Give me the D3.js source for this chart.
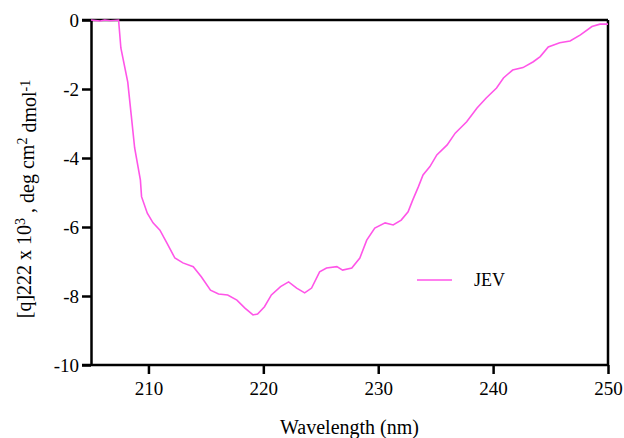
<!DOCTYPE html>
<html>
<head>
<meta charset="utf-8">
<script src="https://cdn.jsdelivr.net/npm/d3@7"></script>
<style>
  body { margin: 0; background: #fff; }
  svg { display: block; }
  text { font-family: "Liberation Serif", "Times New Roman", serif; fill: #000; }
</style>
</head>
<body>
<div id="chart"></div>
<script>
// CD spectrum
var wavelength = [205.0, 205.8, 206.2, 206.7, 207.4, 207.6, 208.2, 208.5, 208.8, 209.3,
  209.4, 209.9, 210.4, 211.0, 211.6, 212.3, 213.0, 213.9, 214.6, 215.4,
  216.1, 216.9, 217.7, 218.4, 219.1, 219.5, 220.1, 220.7, 221.5, 222.2,
  222.9, 223.6, 224.2, 224.9, 225.5, 226.4, 226.9, 227.7, 228.4, 229.0,
  229.7, 230.6, 231.3, 232.0, 232.6, 233.0, 233.5, 233.9, 234.5, 235.1,
  236.0, 236.7, 237.7, 238.6, 239.4, 240.3, 240.9, 241.7, 242.6, 243.5,
  244.1, 244.8, 245.8, 246.7, 247.6, 248.6, 249.3, 250.0];
var theta = [0, -0.03, 0, -0.02, 0, -0.81, -1.80, -2.75, -3.71, -4.64,
  -5.12, -5.60, -5.88, -6.09, -6.46, -6.90, -7.04, -7.15, -7.44, -7.83,
  -7.94, -7.97, -8.12, -8.35, -8.55, -8.52, -8.31, -7.97, -7.73, -7.59,
  -7.77, -7.91, -7.77, -7.30, -7.19, -7.15, -7.25, -7.19, -6.90, -6.38,
  -6.03, -5.88, -5.94, -5.80, -5.56, -5.22, -4.83, -4.49, -4.25, -3.91,
  -3.62, -3.28, -2.95, -2.55, -2.26, -1.97, -1.68, -1.45, -1.38, -1.21,
  -1.06, -0.78, -0.66, -0.61, -0.43, -0.19, -0.12, -0.12];
var xTicks = [210, 220, 230, 240, 250];
var yTicks = [0, -2, -4, -6, -8, -10];
var seriesName = "JEV";

var w = 624, h = 438;
var plotLeft = 91, plotRight = 608, plotTop = 20, plotBottom = 365;
var lineColor = "#ff55e8";

var svg = d3.select("#chart").append("svg").attr("width", w).attr("height", h);

var x = d3.scaleLinear().domain([205, 250]).range([plotLeft, plotRight]);
var y = d3.scaleLinear().domain([-10, 0]).range([plotBottom, plotTop]);

var points = wavelength.map(function (d, i) { return [d, theta[i]]; });

// frame: top and right sides
svg.append("line").attr("x1", plotLeft - 9).attr("x2", plotRight).attr("y1", plotTop).attr("y2", plotTop)
  .style("stroke", "#000").style("stroke-width", 2.5);
svg.append("line").attr("x1", plotRight).attr("x2", plotRight).attr("y1", plotTop).attr("y2", plotBottom)
  .style("stroke", "#000").style("stroke-width", 2.5);

// plain hyphen minus like the original, not the unicode minus
var plain = function (d) { return String(d); };

var xAxis = svg.append("g").attr("transform", "translate(0," + plotBottom + ")")
  .call(d3.axisBottom(x).tickValues(xTicks).tickFormat(plain).tickSize(9).tickPadding(8).tickSizeOuter(0));
var yAxis = svg.append("g").attr("transform", "translate(" + plotLeft + ",0)")
  .call(d3.axisLeft(y).tickValues(yTicks).tickFormat(plain).tickSize(9).tickPadding(3).tickSizeOuter(0));

[xAxis, yAxis].forEach(function (g) {
  g.select(".domain").style("stroke", "#000").style("stroke-width", 2.5);
  g.selectAll(".tick line").style("stroke", "#000").style("stroke-width", 2.5);
  g.selectAll(".tick text").style("font-size", "19px").style("font-family", "Liberation Serif, serif").style("fill", "#000");
});
// extend bottom line to the left so it meets the -10 tick
xAxis.select(".domain").attr("d", "M" + (plotLeft - 9) + ",0H" + plotRight);

// the spectrum
svg.append("path").datum(points)
  .attr("d", d3.line().x(function (d) { return x(d[0]); }).y(function (d) { return y(d[1]); }))
  .style("fill", "none").style("stroke", lineColor).style("stroke-width", 1.6);

// legend
svg.append("line").attr("x1", 417).attr("x2", 452).attr("y1", 280).attr("y2", 280)
  .style("stroke", lineColor).style("stroke-width", 1.6);
svg.append("text").attr("x", 474).attr("y", 286).style("font-size", "18px").text(seriesName);

// axis titles
svg.append("text").attr("x", (plotLeft + plotRight) / 2).attr("y", 434)
  .style("font-size", "20px").style("text-anchor", "middle").text("Wavelength (nm)");

var yl = svg.append("text").attr("transform", "translate(31,199) rotate(-90)")
  .style("font-size", "20px").style("text-anchor", "middle");
yl.append("tspan").text("[q]222 x 10");
yl.append("tspan").attr("dy", "-0.45em").style("font-size", "14px").text("3");
yl.append("tspan").attr("dy", "0.45em").text(" , deg cm");
yl.append("tspan").attr("dy", "-0.45em").style("font-size", "14px").text("2");
yl.append("tspan").attr("dy", "0.45em").text(" dmol");
yl.append("tspan").attr("dy", "-0.45em").style("font-size", "14px").text("-1");
</script>
</body>
</html>
